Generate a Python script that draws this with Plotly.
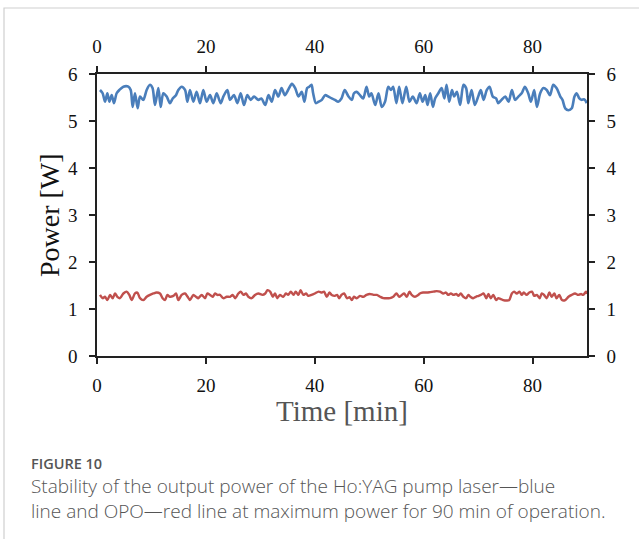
import plotly.graph_objects as go

# ---- data ----
blue_t = [0.55, 1.04, 1.47, 1.9, 2.27, 2.7, 3.12, 3.61, 4.1, 4.84, 5.76, 6.19, 6.55, 6.98, 7.47, 7.9,
          8.51, 9.12, 9.73, 10.2, 10.65, 11.27, 11.7, 12.18, 12.8, 13.4, 13.9, 14.51, 14.94, 15.55,
          16.17, 16.6, 17.08, 17.7, 18.3, 18.92, 19.53, 20.14, 20.76, 21.37, 21.98, 22.72, 23.2,
          23.94, 24.43, 25.16, 25.78, 26.39, 27.0, 27.61, 28.23, 28.84, 29.64,
          30.2, 30.9, 31.5, 32.1, 32.7, 33.3, 33.9, 34.5, 35.1, 35.8, 36.4, 37.0, 37.6, 38.1, 38.6,
          39.0, 39.4, 39.7, 40.2, 40.7, 41.3, 41.9, 42.5, 43.1, 43.7, 44.3, 44.9, 45.5, 46.2, 46.8,
          47.2, 47.7, 48.3, 48.9, 49.5, 50.0, 50.4, 51.1, 51.7, 52.3, 52.9, 53.5, 54.0, 54.4, 55.0,
          55.5, 56.1, 56.8, 57.4, 58.0, 58.7,
          59.3, 59.8, 60.3, 60.7, 61.2, 61.7, 62.1, 62.7, 63.3, 63.8, 64.2, 64.7, 65.2, 65.6, 66.1,
          66.7, 67.3, 67.8, 68.2, 68.8, 69.4, 70.1, 70.5, 71.0, 71.6, 72.1, 72.7, 73.3, 73.7, 74.3,
          75.0, 75.6, 76.2, 76.8, 77.4, 78.0, 78.6, 79.2, 79.7, 80.3, 80.8, 81.4, 82.0, 82.6, 83.2,
          83.8, 84.4, 85.1, 85.5, 86.0, 86.6, 87.2, 87.7, 88.1, 88.6, 89.0, 89.5, 89.95]
blue_p = [5.66, 5.59, 5.41, 5.59, 5.41, 5.55, 5.38, 5.59, 5.66, 5.73, 5.73, 5.66, 5.30, 5.59, 5.27, 5.52,
          5.45, 5.66, 5.77, 5.70, 5.34, 5.70, 5.30, 5.59, 5.52, 5.38, 5.48, 5.55, 5.66, 5.73,
          5.66, 5.41, 5.66, 5.41, 5.62, 5.38, 5.66, 5.41, 5.55, 5.38, 5.59, 5.38, 5.52,
          5.66, 5.45, 5.55, 5.38, 5.59, 5.34, 5.55, 5.45, 5.52, 5.45,
          5.48, 5.34, 5.55, 5.41, 5.66, 5.52, 5.70, 5.55, 5.66, 5.79, 5.70, 5.52, 5.62, 5.41, 5.70,
          5.73, 5.77, 5.59, 5.38, 5.41, 5.45, 5.55, 5.52, 5.48, 5.45, 5.41, 5.48, 5.66, 5.52, 5.45,
          5.59, 5.62, 5.55, 5.48, 5.73, 5.52, 5.59, 5.34, 5.59, 5.30, 5.41, 5.73, 5.66, 5.73, 5.38,
          5.73, 5.38, 5.73, 5.41, 5.52, 5.38,
          5.59, 5.41, 5.55, 5.34, 5.59, 5.30, 5.48, 5.59, 5.70, 5.48, 5.77, 5.41, 5.66, 5.52, 5.62,
          5.34, 5.77, 5.70, 5.38, 5.66, 5.34, 5.55, 5.66, 5.45, 5.66, 5.73, 5.52, 5.48, 5.38, 5.45,
          5.52, 5.41, 5.66, 5.45, 5.52, 5.59, 5.73, 5.59, 5.41, 5.66, 5.30, 5.59, 5.70, 5.66, 5.55,
          5.77, 5.70, 5.52, 5.45, 5.27, 5.23, 5.27, 5.52, 5.59, 5.48, 5.45, 5.46, 5.38]

red_t = [0.55, 1.04, 1.47, 1.9, 2.39, 2.88, 3.31, 3.74, 4.22, 4.84, 5.45, 5.94, 6.37, 6.98, 7.41, 7.9,
         8.51, 9.12, 9.73, 10.35, 10.96, 11.57, 12.06, 12.49, 12.92, 13.4, 14.02, 14.51, 14.94,
         15.55, 16.17, 16.65, 17.08, 17.7, 18.19, 18.61, 19.23, 19.84, 20.27, 20.76, 21.25, 21.68,
         22.1, 22.59, 23.2, 23.82, 24.43, 24.92, 25.41, 25.96, 26.39, 26.88, 27.37, 27.8, 28.41,
         29.02, 29.64,
         30.4, 30.9, 31.3, 31.8, 32.3, 32.7, 33.1, 33.6, 34.2, 34.7, 35.1, 35.6, 36.1, 36.5, 37.0,
         37.4, 37.9, 38.4, 38.8, 39.4, 40.0, 40.7, 41.3, 41.7, 42.2, 42.7, 43.1, 43.7, 44.1, 44.5,
         44.9, 45.4, 45.9, 46.4, 46.8, 47.2, 47.7, 48.3, 48.9, 49.5, 50.1, 50.8, 51.4, 52.0, 52.6,
         53.2, 53.8, 54.4, 55.0, 55.5, 56.0, 56.4, 56.9, 57.4, 57.8, 58.4, 59.0,
         59.3, 59.9, 60.6, 61.2, 61.8, 62.4, 63.0, 63.6, 64.1, 64.5, 65.0, 65.5, 66.0, 66.4, 66.8,
         67.3, 67.8, 68.2, 68.6, 69.1, 69.6, 70.1, 70.5, 71.0, 71.5, 71.9, 72.3, 72.8, 73.3, 73.7,
         74.2, 74.6, 75.3, 75.7, 76.2, 76.6, 77.1, 77.6, 78.0, 78.4, 78.9, 79.4, 79.9, 80.3, 80.8,
         81.3, 81.7, 82.1, 82.6, 83.1, 83.5, 84.0, 84.4, 84.9, 85.4, 86.0, 86.6, 87.2, 87.8, 88.4,
         88.9, 89.3, 89.8, 89.95]
red_p = [1.30, 1.23, 1.26, 1.19, 1.30, 1.23, 1.33, 1.26, 1.23, 1.33, 1.37, 1.30, 1.19, 1.33, 1.35, 1.23,
         1.19, 1.26, 1.30, 1.33, 1.35, 1.33, 1.23, 1.19, 1.30, 1.26, 1.28, 1.33, 1.19,
         1.30, 1.33, 1.26, 1.19, 1.30, 1.26, 1.23, 1.30, 1.23, 1.33, 1.30, 1.26, 1.33,
         1.30, 1.30, 1.23, 1.26, 1.26, 1.30, 1.23, 1.33, 1.37, 1.30, 1.33, 1.26, 1.23,
         1.30, 1.33,
         1.30, 1.33, 1.40, 1.37, 1.26, 1.33, 1.23, 1.30, 1.26, 1.33, 1.30, 1.37, 1.30, 1.37, 1.30,
         1.40, 1.30, 1.33, 1.28, 1.30, 1.33, 1.37, 1.35, 1.37, 1.26, 1.35, 1.30, 1.28, 1.30, 1.23,
         1.30, 1.33, 1.23, 1.25, 1.19, 1.26, 1.23, 1.28, 1.26, 1.30, 1.32, 1.30, 1.30, 1.26, 1.23,
         1.23, 1.23, 1.26, 1.33, 1.26, 1.30, 1.33, 1.26, 1.37, 1.30, 1.26, 1.30,
         1.33, 1.35, 1.35, 1.36, 1.37, 1.38, 1.37, 1.33, 1.35, 1.30, 1.33, 1.30, 1.32, 1.28, 1.33,
         1.26, 1.23, 1.30, 1.26, 1.23, 1.26, 1.28, 1.30, 1.33, 1.23, 1.32, 1.23, 1.30, 1.19, 1.23,
         1.21, 1.19, 1.18, 1.19, 1.33, 1.37, 1.33, 1.37, 1.30, 1.35, 1.30, 1.35, 1.37, 1.28, 1.30,
         1.23, 1.33, 1.30, 1.23, 1.35, 1.26, 1.33, 1.23, 1.30, 1.19, 1.19, 1.26, 1.30, 1.33, 1.30,
         1.32, 1.30, 1.37, 1.32]

x_ticks = [0, 20, 40, 60, 80]
y_ticks = [0, 1, 2, 3, 4, 5, 6]
x_title = "Time [min]"
y_title = "Power [W]"
fig_label = "FIGURE 10"
caption = ["Stability of the output power of the Ho:YAG pump laser\u2014blue",
           "line and OPO\u2014red line at maximum power for 90 min of operation."]

# ---- layout geometry ----
W, H = 639, 539
L, R, T, B = 97, 52, 74, 183
pw, ph = W - L - R, H - T - B


def px(x):
    return (x - L) / pw


def py(y):
    return (H - B - y) / ph


serif = "Liberation Serif, Times New Roman, serif"
tickfont = dict(family=serif, size=19, color="#111")

fig = go.Figure()
fig.add_trace(go.Scatter(x=red_t, y=red_p, mode="lines",
                         line=dict(color="#c0504d", width=2.4, shape="spline", smoothing=0.8),
                         xaxis="x", yaxis="y", showlegend=False, hoverinfo="skip"))
fig.add_trace(go.Scatter(x=blue_t, y=blue_p, mode="lines",
                         line=dict(color="#4a7ebb", width=2.6, shape="spline", smoothing=0.8),
                         xaxis="x2", yaxis="y2", showlegend=False, hoverinfo="skip"))

axis_common = dict(showgrid=False, zeroline=False, showline=True, linecolor="#222", linewidth=1.5,
                   ticks="outside", ticklen=6, tickwidth=1.5, tickcolor="#222", tickfont=tickfont)

fig.update_layout(
    width=W, height=H,
    margin=dict(l=L, r=R, t=T, b=B),
    paper_bgcolor="white", plot_bgcolor="white",
    xaxis=dict(range=[0, 90], tickvals=x_ticks, side="bottom", anchor="y",
               ticklabelstandoff=5, **axis_common),
    yaxis=dict(range=[0, 6], tickvals=y_ticks, side="left", anchor="x",
               ticklabelstandoff=8, **axis_common),
    xaxis2=dict(range=[0, 90], tickvals=x_ticks, side="top", anchor="y2", overlaying="x",
                ticklabelstandoff=6, **axis_common),
    yaxis2=dict(range=[0, 6], tickvals=y_ticks, side="right", anchor="x2", overlaying="y",
                ticklabelstandoff=8, **axis_common),
    shapes=[dict(type="rect", xref="paper", yref="paper",
                 x0=px(4), x1=px(660), y0=py(8), y1=py(560),
                 line=dict(color="#cfcfcf", width=1.2), fillcolor="rgba(0,0,0,0)", layer="below")],
    annotations=[
        dict(text=y_title, xref="paper", yref="paper", x=px(49), y=py(215), textangle=-90,
             showarrow=False, font=dict(family=serif, size=28, color="#111"),
             xanchor="center", yanchor="middle"),
        dict(text=x_title, xref="paper", yref="paper", x=px(342), y=py(411),
             showarrow=False, font=dict(family=serif, size=29, color="#555"),
             xanchor="center", yanchor="middle"),
        dict(text=fig_label, xref="paper", yref="paper", x=px(29), y=py(463),
             showarrow=False, font=dict(family="Open Sans", size=14.5, color="#555", weight=600),
             xanchor="left", yanchor="middle"),
        dict(text="<br>".join(caption), xref="paper", yref="paper", x=px(29), y=py(498.5),
             showarrow=False, font=dict(family="Open Sans", size=19, color="#555", weight=300),
             xanchor="left", yanchor="middle", align="left"),
    ],
)

fig.write_html("out.html")
